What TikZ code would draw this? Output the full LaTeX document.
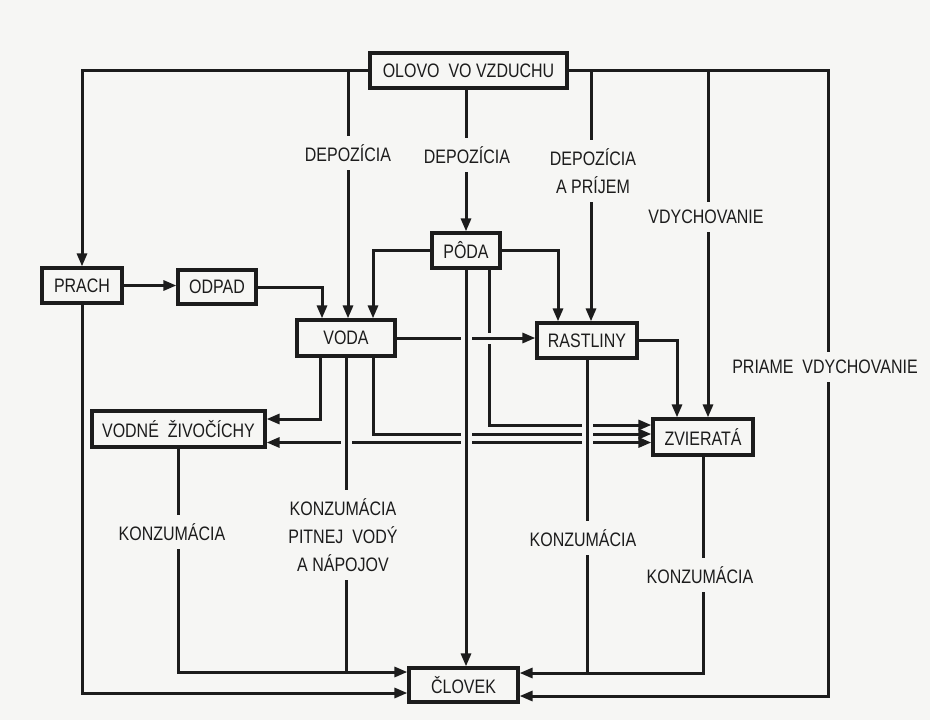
\documentclass[tikz,border=0pt]{standalone}
\usepackage{fontspec}
\setmainfont{Liberation Sans}[FakeStretch=0.82]
\usetikzlibrary{arrows.meta}
\definecolor{paper}{RGB}{246,246,244}
\definecolor{ink}{RGB}{28,28,28}
\newcommand\lblfont{\fontsize{19.5}{28}\selectfont}
\begin{document}
\begin{tikzpicture}[x=1pt,y=-1pt,
  box/.style={draw=ink, line width=3.2pt, fill=paper, inner sep=0pt, text=ink, font=\lblfont},
  lbl/.style={fill=paper, inner xsep=3pt, inner ysep=8pt, text=ink, font=\lblfont, align=center},
  plain/.style={draw=ink, line width=3pt},
  conn/.style={plain, -{Triangle[length=13pt,width=10pt]}},
  biconn/.style={plain, {Triangle[length=13pt,width=10pt]}-{Triangle[length=13pt,width=10pt]}},
  halo/.style={preaction={draw=paper, line width=11pt, shorten <=14pt, shorten >=14pt, arrows=-}}
]
\fill[paper] (0,0) rectangle (930,720);
\useasboundingbox (0,0) rectangle (930,720);

% nodes
\node[box, minimum width=197pt, minimum height=35pt] (olovo) at (468.5,70.5) {OLOVO\ \ VO VZDUCHU};
\node[box, minimum width=80pt, minimum height=35pt] (prach) at (82,285.5) {PRACH};
\node[box, minimum width=78pt, minimum height=34pt] (odpad) at (217,287) {ODPAD};
\node[box, minimum width=68pt, minimum height=35pt] (poda) at (466,250.5) {PÔDA};
\node[box, minimum width=98pt, minimum height=36pt] (voda) at (346,338) {VODA};
\node[box, minimum width=100pt, minimum height=35pt] (rastliny) at (587,340.5) {RASTLINY};
\node[box, minimum width=173pt, minimum height=36pt] (vodne) at (178.5,429) {VODNÉ\ \ ŽIVOČÍCHY};
\node[box, minimum width=100pt, minimum height=36pt] (zvierata) at (703,437) {ZVIERATÁ};
\node[box, minimum width=109pt, minimum height=34pt] (clovek) at (463.5,685) {ČLOVEK};

% helper coordinates
\coordinate (ne) at (828,70.5);
\coordinate (se) at (828,696);
\coordinate (ya) at (0,425);
\coordinate (yv) at (0,434);
\coordinate (yb) at (0,442.5);
\coordinate (yw) at (0,419);
\coordinate (yk) at (0,672);
\coordinate (yp) at (0,693);
\coordinate (yr) at (0,673);

% from air
\draw[conn] (olovo.west) -| (prach.north);
\draw[conn] ([xshift=2pt]voda.north |- olovo.west) -- ([xshift=2pt]voda.north);
\draw[conn] (poda.north |- olovo.south) -- (poda.north);
\draw[conn] (olovo.east) -- (ne) -- (se) -- (se -| clovek.east);
\draw[conn] ([xshift=4pt]rastliny.north |- ne) -- ([xshift=4pt]rastliny.north);
\draw[conn] ([xshift=5pt]zvierata.north |- ne) -- ([xshift=5pt]zvierata.north);

% upper flows
\draw[conn] (prach.east) -- (prach.east -| odpad.west);
\draw[conn] (odpad.east) -| ([xshift=-24pt]voda.north);
\draw[conn] (poda.west) -| ([xshift=27pt]voda.north);
\draw[conn] (poda.east) -| ([xshift=-29pt]rastliny.north);
\draw[conn] (rastliny.east) -| ([xshift=-26pt]zvierata.north);

% flows to animals (drawn in crossing order)
\draw[conn] ([xshift=23pt]poda.south) |- (zvierata.west |- ya);
\draw[conn, halo] (voda.east) -- (voda.east -| rastliny.west);
\draw[conn] ([xshift=27pt]voda.south) |- (zvierata.west |- yv);
\draw[conn] ([xshift=-26pt]voda.south) |- (vodne.east |- yw);
\draw[biconn] (vodne.east |- yb) -- (zvierata.west |- yb);

% verticals passing over
\draw[conn, halo] (poda.south) -- (poda.south |- clovek.north);
\draw[plain, halo] (voda.south) -- (voda.south |- yk);
\draw[plain, halo] (rastliny.south) -- (rastliny.south |- yr);

% to man
\draw[conn] (vodne.south) |- (clovek.west |- yk);
\draw[conn] (prach.south) |- (clovek.west |- yp);
\draw[conn] (zvierata.south) |- (clovek.east |- yr);

% labels
\node[lbl] (l1) at (348,153) {DEPOZÍCIA};
\node[lbl] (l2) at (467,155) {DEPOZÍCIA};
\node[lbl] (l3) at (593,171) {DEPOZÍCIA\\A PRÍJEM};
\node[lbl] (l4) at (706,217) {VDYCHOVANIE};
\node[lbl] (l5) at (825,367) {PRIAME\ \ VDYCHOVANIE};
\node[lbl] (l6) at (172,532) {KONZUMÁCIA};
\node[lbl] (l7) at (343,535) {KONZUMÁCIA\\PITNEJ\ \ VODÝ\\A NÁPOJOV};
\node[lbl] (l8) at (583,538) {KONZUMÁCIA};
\node[lbl] (l9) at (700,575) {KONZUMÁCIA};
\end{tikzpicture}
\end{document}
